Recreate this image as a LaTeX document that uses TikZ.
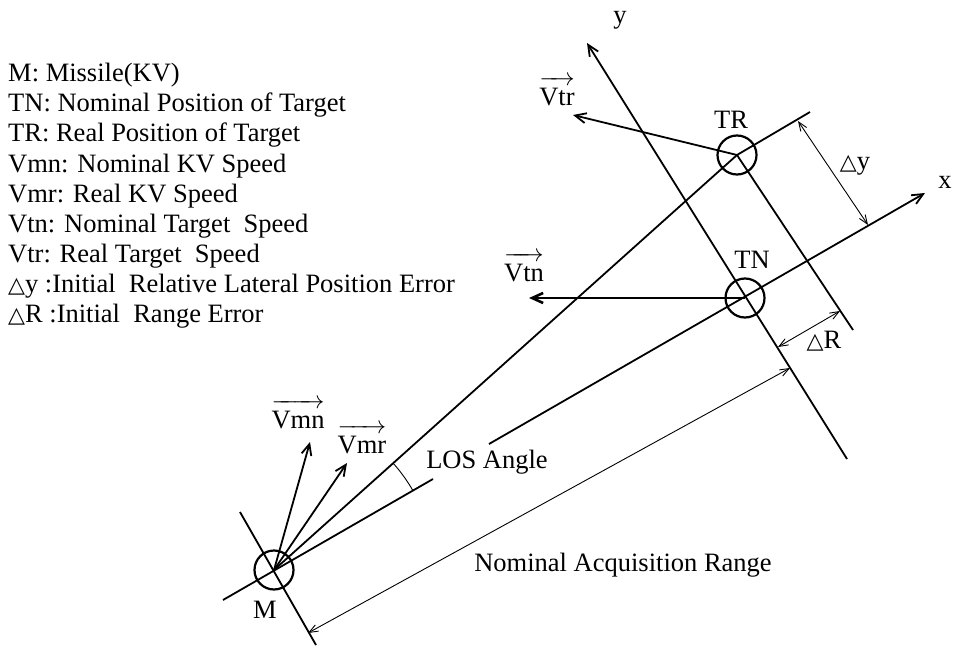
\documentclass[tikz,border=0pt]{standalone}
\usepackage{fontspec}
\setmainfont{Liberation Serif}
\newfontfamily\dvfont{DejaVu Sans}
\usetikzlibrary{arrows.meta,calc}
\newcommand{\tri}{{\dvfont\fontsize{22}{22}\selectfont △}}
\newcommand{\vlab}[1]{$\overrightarrow{\mbox{\rule{0pt}{0.78em}#1}}$}
\begin{document}
\begin{tikzpicture}[x=1pt,y=-1pt,
  every node/.style={font=\fontsize{26.5}{30}\selectfont, inner sep=0pt},
  mainline/.style={line width=1.8pt, black},
  thinline/.style={line width=0.9pt, black},
  bigarrow/.style={-{Straight Barb[length=11pt,width=10pt]}},
  dimarrow/.style={thinline, {Straight Barb[length=9pt,width=7pt]}-{Straight Barb[length=9pt,width=7pt]}},
  ring/.style={draw, circle, minimum size=39pt, line width=2.2pt},
  leg/.style={anchor=base west}
]
\useasboundingbox (0,0) rectangle (953,650);
\fill[white] (0,0) rectangle (953,650);

% legend
\node[leg] (l1) at (8,82)  {M: Missile(KV)};
\node[leg] (l2) at (8,112) {TN: Nominal Position of Target};
\node[leg] (l3) at (8,142) {TR: Real Position of Target};
\node[leg] (l4) at (8,172) {Vmn: Nominal KV Speed};
\node[leg] (l5) at (8,202) {Vmr: Real KV Speed};
\node[leg] (l6) at (8,232) {Vtn: Nominal Target\ \ Speed};
\node[leg] (l7) at (8,262) {Vtr: Real Target\ \ Speed};
\node[leg] (l8) at (8,292) {\tri y :Initial\ \ Relative Lateral Position Error};
\node[leg] (l9) at (8,322) {\tri R :Initial\ \ Range Error};

% circles
\node[ring] (M)  at (274,570) {};
\node[ring] (TN) at (745,298) {};
\node[ring] (TR) at (737,155) {};

% coordinates
\coordinate (mp1) at (240,512);
\coordinate (mp2) at (316,645);
\coordinate (xa1) at (223,600);
\coordinate (xa2) at (433,479);
\coordinate (xb1) at (489,444);
\coordinate (xtip) at (925,193);
\coordinate (ytop) at (587,43);
\coordinate (ybot) at (847,459);
\coordinate (tr1) at (810,112);
\coordinate (tr2) at (853,330);
\coordinate (vmn) at (310,442);
\coordinate (vmr) at (347,463);
\coordinate (vtn) at (529,298);
\coordinate (vtr) at (573,115);
\coordinate (dy1) at (798,121);
\coordinate (dy2) at (868,225);
\coordinate (dr1) at (778,347);
\coordinate (dr2) at (840,311);
\coordinate (rg1) at (308,633);
\coordinate (rg2) at (790,368);

% main lines
\draw[mainline] (mp1) -- (mp2);
\draw[mainline] (xa1) -- (xa2);
\draw[mainline, bigarrow] (xb1) -- (xtip);
\draw[mainline, bigarrow] (ybot) -- (ytop);
\draw[mainline] (M.center) -- (TR.center);
\draw[mainline] (TR.center) -- (tr1);
\draw[mainline] (TR.center) -- (tr2);

% velocity vectors
\draw[mainline, bigarrow] (M.center) -- (vmn);
\draw[mainline, bigarrow] (M.center) -- (vmr);
\draw[line width=2.6pt, bigarrow] (TN.center) -- (vtn);
\draw[mainline, bigarrow] (TR.center) -- (vtr);

% dimensions
\draw[dimarrow] (dy1) -- (dy2);
\draw[dimarrow] (dr1) -- (dr2);
\draw[dimarrow] (rg1) -- (rg2);

% LOS angle arc
\draw[thinline] plot[domain=30:41.9, samples=20] ({274+160*cos(\x)},{570-160*sin(\x)});

% labels
\node (lM) at (265,610) {M};
\node (lTN) at (752,260) {TN};
\node (lTR) at (731,120) {TR};
\node (lx) at (945,182) {x};
\node (ly) at (620,20) {y};
\node (ldy) at (855,165) {\tri y};
\node (ldr) at (824,341) {\tri R};
\node (lvtr) at (557,91) {\vlab{Vtr}};
\node (lvtn) at (524,267) {\vlab{Vtn}};
\node (lvmn) at (298,414) {\vlab{Vmn}};
\node (lvmr) at (362,439) {\vlab{Vmr}};
\node (llos) at (487,462) {LOS Angle};
\node (lrange) at (623,565) {Nominal Acquisition Range};
\end{tikzpicture}
\end{document}
